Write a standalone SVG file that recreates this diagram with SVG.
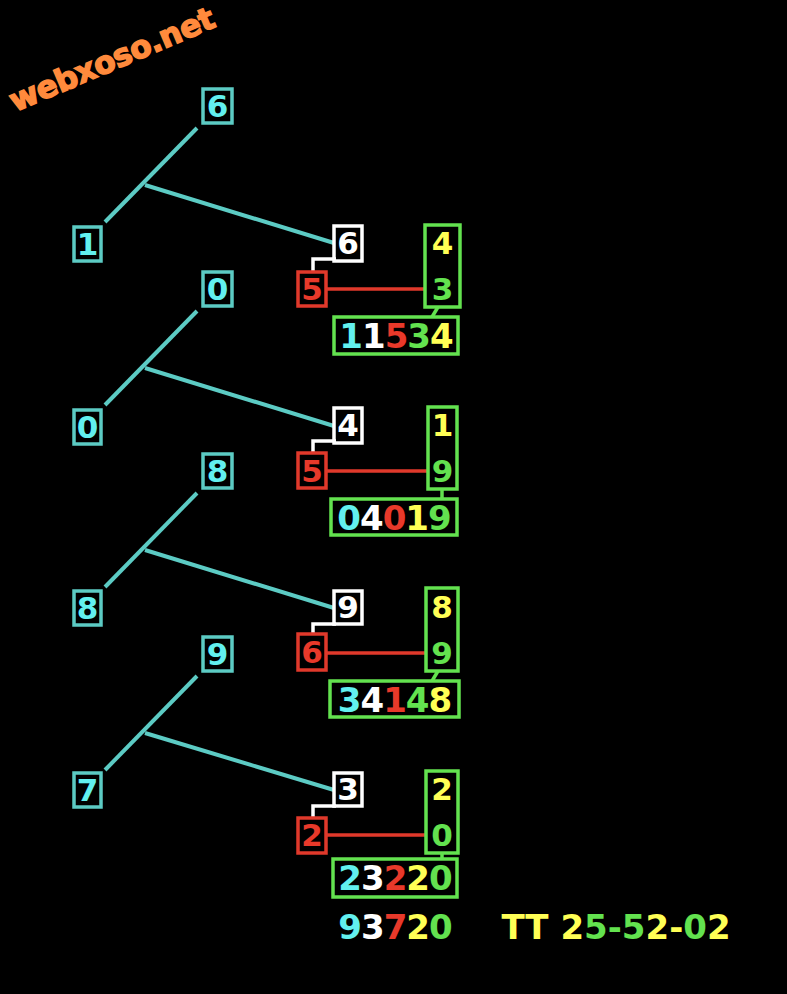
<svg xmlns="http://www.w3.org/2000/svg" width="787" height="994" viewBox="0 0 787 994">
<style>
text{font-family:"DejaVu Sans","Liberation Sans",sans-serif;font-weight:bold;text-anchor:middle}
.n{font-size:31px}
.s{font-size:34px;letter-spacing:-1px}
.f{font-size:34px}
.cb{fill:none;stroke:#5ccbc4;stroke-width:3.5}
.wb{fill:none;stroke:#ffffff;stroke-width:3.5}
.rb{fill:none;stroke:#e0392b;stroke-width:3.5}
.gb{fill:none;stroke:#63e24f;stroke-width:3.5}
.cl{stroke:#5ccbc4;stroke-width:4;fill:none}
.wl{stroke:#ffffff;stroke-width:3.5;fill:none}
.rl{stroke:#e0392b;stroke-width:3.5;fill:none}
.gl{stroke:#63e24f;stroke-width:3.5;fill:none}
.c{fill:#62f0ef}.w{fill:#ffffff}.r{fill:#e8392a}.g{fill:#63e24f}.y{fill:#ffff55}
</style>
<rect width="787" height="994" fill="#000"/>
<text x="112" y="70" transform="rotate(-23 112 60)" style="font-size:31px;fill:#ff8a3c;stroke:#ff8a3c;stroke-width:1.5;font-family:'DejaVu Sans',sans-serif;letter-spacing:-0.3px">webxoso.net</text>

<g id="connectors">
<line class="cl" x1="197" y1="128" x2="105" y2="222"/>
<line class="cl" x1="145" y1="185" x2="334" y2="243"/>
<polyline class="wl" points="336,259 313,259 313,272"/>
<line class="rl" x1="326" y1="289" x2="425" y2="289"/>
<line class="gl" x1="438" y1="307" x2="432" y2="317"/>

<line class="cl" x1="197" y1="311" x2="105" y2="405"/>
<line class="cl" x1="145" y1="368" x2="334" y2="426"/>
<polyline class="wl" points="336,441 313,441 313,453"/>
<line class="rl" x1="326" y1="471" x2="428" y2="471"/>
<line class="gl" x1="442" y1="489" x2="442" y2="499"/>

<line class="cl" x1="197" y1="493" x2="105" y2="587"/>
<line class="cl" x1="145" y1="550" x2="334" y2="608"/>
<polyline class="wl" points="336,624 313,624 313,634"/>
<line class="rl" x1="326" y1="653" x2="426" y2="653"/>
<line class="gl" x1="438" y1="671" x2="432" y2="681"/>

<line class="cl" x1="197" y1="676" x2="105" y2="770"/>
<line class="cl" x1="145" y1="733" x2="334" y2="790"/>
<polyline class="wl" points="336,806 313,806 313,818"/>
<line class="rl" x1="326" y1="835" x2="426" y2="835"/>
<line class="gl" x1="442" y1="853" x2="442" y2="859"/>
</g>

<!-- block 1 -->
<g id="c1top"><rect class="cb" x="203" y="89" width="29" height="34"/><text class="n c" x="217.5" y="117">6</text></g>
<g id="c1bot"><rect class="cb" x="74" y="227" width="27" height="34"/><text class="n c" x="87.5" y="255">1</text></g>
<g id="w1"><rect class="wb" x="334" y="226" width="28" height="35"/><text class="n w" x="348" y="254">6</text></g>
<g id="r1"><rect class="rb" x="298" y="272" width="28" height="34"/><text class="n r" x="312" y="300">5</text></g>
<g id="g1"><rect class="gb" x="425" y="225" width="35" height="82"/><text class="n y" x="442.5" y="254">4</text><text class="n g" x="442.5" y="300">3</text></g>
<g id="b1"><rect class="gb" x="334" y="317" width="124" height="37"/><text class="s" x="396" y="348"><tspan class="c">1</tspan><tspan class="w">1</tspan><tspan class="r">5</tspan><tspan class="g">3</tspan><tspan class="y">4</tspan></text></g>

<!-- block 2 -->
<g id="c2top"><rect class="cb" x="203" y="272" width="29" height="34"/><text class="n c" x="217.5" y="300">0</text></g>
<g id="c2bot"><rect class="cb" x="74" y="410" width="27" height="34"/><text class="n c" x="87.5" y="438">0</text></g>
<g id="w2"><rect class="wb" x="334" y="408" width="28" height="35"/><text class="n w" x="348" y="436">4</text></g>
<g id="r2"><rect class="rb" x="298" y="453" width="28" height="35"/><text class="n r" x="312" y="482">5</text></g>
<g id="g2"><rect class="gb" x="428" y="407" width="29" height="82"/><text class="n y" x="442.5" y="436">1</text><text class="n g" x="442.5" y="482">9</text></g>
<g id="b2"><rect class="gb" x="331" y="499" width="126" height="36"/><text class="s" x="394" y="530"><tspan class="c">0</tspan><tspan class="w">4</tspan><tspan class="r">0</tspan><tspan class="y">1</tspan><tspan class="g">9</tspan></text></g>

<!-- block 3 -->
<g id="c3top"><rect class="cb" x="203" y="454" width="29" height="34"/><text class="n c" x="217.5" y="482">8</text></g>
<g id="c3bot"><rect class="cb" x="74" y="591" width="27" height="34"/><text class="n c" x="87.5" y="619">8</text></g>
<g id="w3"><rect class="wb" x="334" y="591" width="28" height="33"/><text class="n w" x="348" y="618">9</text></g>
<g id="r3"><rect class="rb" x="298" y="634" width="28" height="36"/><text class="n r" x="312" y="663">6</text></g>
<g id="g3"><rect class="gb" x="426" y="588" width="32" height="83"/><text class="n y" x="442" y="618">8</text><text class="n g" x="442" y="664">9</text></g>
<g id="b3"><rect class="gb" x="330" y="681" width="129" height="36"/><text class="s" x="394.5" y="712"><tspan class="c">3</tspan><tspan class="w">4</tspan><tspan class="r">1</tspan><tspan class="g">4</tspan><tspan class="y">8</tspan></text></g>

<!-- block 4 -->
<g id="c4top"><rect class="cb" x="203" y="637" width="29" height="34"/><text class="n c" x="217.5" y="665">9</text></g>
<g id="c4bot"><rect class="cb" x="74" y="773" width="27" height="34"/><text class="n c" x="87.5" y="801">7</text></g>
<g id="w4"><rect class="wb" x="334" y="773" width="28" height="33"/><text class="n w" x="348" y="800">3</text></g>
<g id="r4"><rect class="rb" x="298" y="818" width="28" height="35"/><text class="n r" x="312" y="846">2</text></g>
<g id="g4"><rect class="gb" x="426" y="771" width="32" height="82"/><text class="n y" x="442" y="800">2</text><text class="n g" x="442" y="846">0</text></g>
<g id="b4"><rect class="gb" x="333" y="859" width="124" height="38"/><text class="s" x="395" y="890"><tspan class="c">2</tspan><tspan class="w">3</tspan><tspan class="r">2</tspan><tspan class="y">2</tspan><tspan class="g">0</tspan></text></g>

<g id="result"><text class="s" x="395" y="939"><tspan class="c">9</tspan><tspan class="w">3</tspan><tspan class="r">7</tspan><tspan class="y">2</tspan><tspan class="g">0</tspan></text></g>
<g id="tt"><text class="f" x="616" y="939"><tspan class="y">TT 2</tspan><tspan class="g">5-5</tspan><tspan class="y">2-</tspan><tspan class="g">0</tspan><tspan class="y">2</tspan></text></g>
</svg>
